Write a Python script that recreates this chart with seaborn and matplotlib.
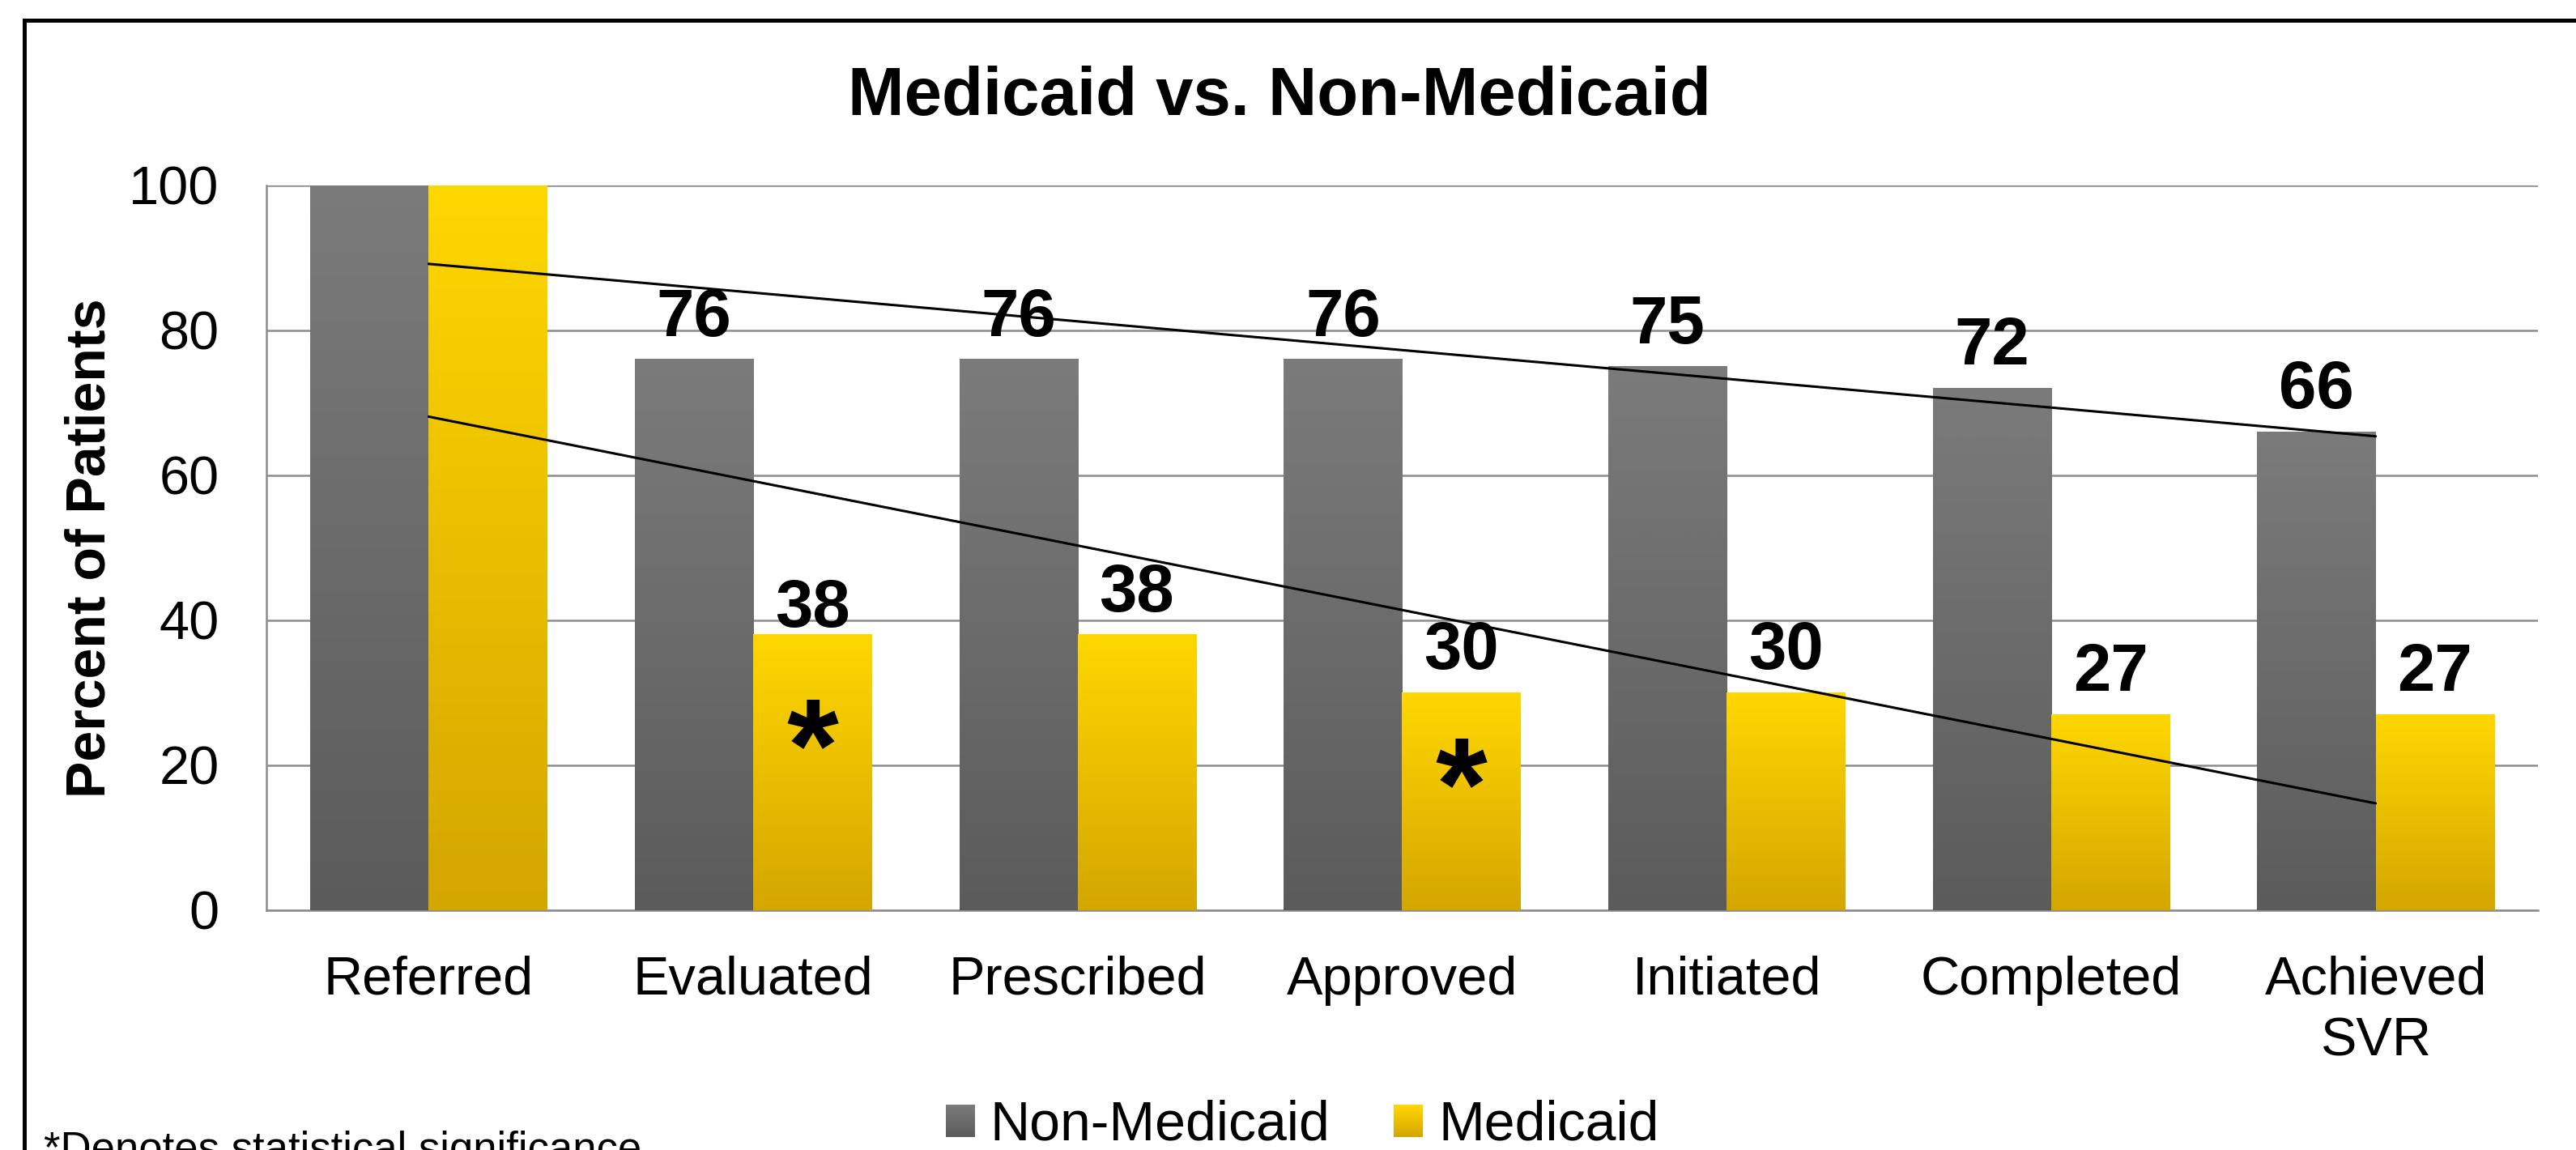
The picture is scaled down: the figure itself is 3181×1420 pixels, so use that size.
import numpy as np
import pandas as pd
import matplotlib
matplotlib.use("Agg")
import matplotlib.pyplot as plt
import seaborn as sns
from matplotlib.colors import LinearSegmentedColormap, to_rgb
from matplotlib.patches import Rectangle
from matplotlib.legend_handler import HandlerBase

# ---------------- data ----------------
stages = ["Referred", "Evaluated", "Prescribed", "Approved", "Initiated", "Completed", "Achieved\nSVR"]
non_medicaid = [100, 76, 76, 76, 75, 72, 66]
medicaid = [100, 38, 38, 30, 30, 27, 27]
groups = ["Non-Medicaid", "Medicaid"]
significant_stages = ["Evaluated", "Approved"]   # marked with * on the Medicaid bar
title = "Medicaid vs. Non-Medicaid"
ylabel = "Percent of Patients"
footnote = "*Denotes statistical significance"

df = pd.DataFrame({
    "stage": stages * 2,
    "group": [groups[0]] * len(stages) + [groups[1]] * len(stages),
    "pct": non_medicaid + medicaid,
})

# ---------------- style ----------------
sns.set_theme(style="white")
plt.rcParams["font.family"] = ["Liberation Sans", "DejaVu Sans"]
plt.rcParams["text.color"] = "black"
plt.rcParams["axes.labelcolor"] = "black"
plt.rcParams["xtick.color"] = "black"
plt.rcParams["ytick.color"] = "black"

GRAY_TOP, GRAY_BOT = "#7b7b7b", "#5b5b5b"
GOLD_TOP, GOLD_BOT = "#ffd700", "#d4a600"
grad = {groups[0]: (GRAY_TOP, GRAY_BOT), groups[1]: (GOLD_TOP, GOLD_BOT)}

fig = plt.figure(figsize=(31.81, 14.20), dpi=100)
ax = fig.add_axes([329 / 3181, 1 - 1124 / 1420, (3134 - 329) / 3181, (1124 - 229) / 1420])

sns.barplot(data=df, x="stage", y="pct", hue="group", hue_order=groups, order=stages,
            palette={groups[0]: "#6b6b6b", groups[1]: "#eac000"},
            width=0.73, gap=0, dodge=True, legend=False, ax=ax, zorder=2,
            linewidth=0, edgecolor="none")

# gradient overlay for each bar
for cont, g in zip(ax.containers, groups):
    top, bot = grad[g]
    cmap = LinearSegmentedColormap.from_list(g, [bot, top])
    for bar in cont:
        x0, w, h = bar.get_x(), bar.get_width(), bar.get_height()
        ax.imshow(np.linspace(0, 1, 256).reshape(-1, 1), cmap=cmap, origin="lower",
                  extent=[x0, x0 + w, 0, h], aspect="auto", zorder=2.1, interpolation="bicubic")

# linear trend lines
xs = np.arange(len(stages))
for vals in (non_medicaid, medicaid):
    sns.regplot(x=xs, y=np.array(vals, dtype=float), ci=None, scatter=False, truncate=True,
                ax=ax, line_kws=dict(color="black", lw=2.2, zorder=4))

ax.set_xlim(-0.5, len(stages) - 0.5)
ax.set_ylim(0, 100)
ax.set_yticks([0, 20, 40, 60, 80, 100])
ax.set_xticks(xs)
ax.set_xticklabels(stages)
ax.set_xlabel("")
ax.set_ylabel("")

ax.yaxis.grid(True, color="#8c8c8c", lw=1.8, zorder=0)
ax.set_axisbelow(True)
for s in ("top", "right"):
    ax.spines[s].set_visible(False)
for s in ("left", "bottom"):
    ax.spines[s].set_color("#8c8c8c")
    ax.spines[s].set_linewidth(1.8)
    ax.spines[s].set_zorder(1)
ax.tick_params(axis="x", length=0, pad=40, labelsize=48, labelcolor="black")
ax.tick_params(axis="y", length=0, pad=42, labelsize=48, labelcolor="black")
for lbl in ax.get_xticklabels():
    lbl.set_linespacing(1.3)

# value labels
offsets = {groups[0]: [21] * len(stages), groups[1]: [21, 7, 21, 21, 21, 21, 21]}
for cont, g, vals in zip(ax.containers, groups, (non_medicaid, medicaid)):
    for i, (bar, v) in enumerate(zip(cont, vals)):
        if i == 0:
            continue
        ax.annotate(str(v), xy=(bar.get_x() + bar.get_width() / 2, v),
                    xytext=(0, offsets[g][i]), textcoords="offset points",
                    ha="center", va="baseline", fontsize=60, fontweight="bold",
                    color="black", zorder=5)

# significance asterisks on Medicaid bars
star_y = {"Evaluated": 23.2, "Approved": 17.8}
for st in significant_stages:
    i = stages.index(st)
    bar = ax.containers[1][i]
    ax.text(bar.get_x() + bar.get_width() / 2, star_y[st], "*", ha="center", va="center_baseline",
            fontsize=118, fontweight="bold", color="black", zorder=5)

# titles / labels
fig.text(1580 / 3181, 1 - 142 / 1420, title, ha="center", va="baseline",
         fontsize=60, fontweight="bold", color="black")
fig.text(112 / 3181, 1 - 677 / 1420, ylabel, rotation=90, ha="center", va="center",
         fontsize=49, fontweight="bold", color="black")
fig.text(54 / 3181, 1 - 1396 / 1420, footnote, ha="left", va="top", fontsize=38, color="black")


# legend with gradient squares
class GradHandler(HandlerBase):
    def __init__(self, top, bot, n=24):
        super().__init__()
        self.top, self.bot, self.n = np.array(to_rgb(top)), np.array(to_rgb(bot)), n

    def create_artists(self, legend, orig_handle, xdescent, ydescent, width, height, fontsize, trans):
        arts = []
        for k in range(self.n):
            f = k / (self.n - 1)
            c = self.bot * (1 - f) + self.top * f
            arts.append(Rectangle((-xdescent, -ydescent + height * k / self.n), width,
                                  height / self.n * 1.05, facecolor=c, edgecolor="none",
                                  transform=trans))
        return arts


h_non = Rectangle((0, 0), 1, 1)
h_med = Rectangle((0, 0), 1, 1)
leg = fig.legend([h_non, h_med], groups, loc="center", bbox_to_anchor=(1608 / 3181, 1 - 1390 / 1420),
                 ncol=2, frameon=False, fontsize=49, handlelength=0.53, handleheight=0.53,
                 handletextpad=0.28, columnspacing=1.15,
                 handler_map={h_non: GradHandler(GRAY_TOP, GRAY_BOT), h_med: GradHandler(GOLD_TOP, GOLD_BOT)})
for t in leg.get_texts():
    t.set_color("black")

# slide frame (left and top edges visible)
fig.add_artist(Rectangle((29.5 / 3181, -0.5), 2.0, 1.5 - 24.5 / 1420, transform=fig.transFigure,
                         fill=False, edgecolor="black", lw=3.6))

fig.savefig("out.png", dpi=100, facecolor="white")
